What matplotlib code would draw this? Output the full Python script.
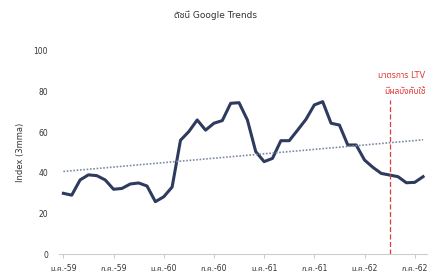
import numpy as np
import matplotlib
matplotlib.use("Agg")
import matplotlib.pyplot as plt
from matplotlib import font_manager

# pick an installed family that has Thai glyphs
thai_pref = ['Noto Sans Thai', 'Noto Sans Thai UI', 'Sarabun', 'Prompt', 'Kanit', 'Anuphan']
names = {f.name for f in font_manager.fontManager.ttflist}
thai_font = next((n for n in thai_pref if n in names), 'Anuphan')
plt.rcParams['font.family'] = ['DejaVu Sans', thai_font]

# Google Trends index (3mma), monthly from ม.ค.-59
index_3mma = [29.9, 29.0, 36.5, 39.0, 38.6, 36.5, 31.9, 32.3, 34.5, 35.0, 33.5, 25.8,
              28.2, 33.0, 56.0, 60.3, 66.0, 61.0, 64.4, 65.7, 74.2, 74.5, 66.0, 50.4,
              45.5, 47.1, 55.8, 55.8, 61.0, 66.3, 73.4, 75.0, 64.4, 63.5, 53.7, 53.7,
              46.3, 42.7, 39.7, 38.9, 38.1, 35.1, 35.3, 38.1]
tick_labels = ['ม.ค.-59', 'ก.ค.-59', 'ม.ค.-60', 'ก.ค.-60',
               'ม.ค.-61', 'ก.ค.-61', 'ม.ค.-62', 'ก.ค.-62']
ltv_month = 39  # เม.ย.-62

x = np.arange(len(index_3mma))
coef = np.polyfit(x, index_3mma, 1)
trend = np.polyval(coef, x)

fig = plt.figure(figsize=(4.32, 2.78), dpi=100)
ax = fig.add_axes([0.137, 0.086, 0.852, 0.731])

ax.plot(x, index_3mma, color='#2e3b5e', lw=2.2, solid_joinstyle='round')
ax.plot(x, trend, color='#7d8aa6', lw=1.2, ls=(0, (1, 1)))
ax.plot([ltv_month, ltv_month], [0, 76], color='#e03a3a', lw=0.9, ls=(0, (4, 2)))

ax.text(43.3, 88, 'มาตรการ LTV', color='#e03a3a', fontsize=6, ha='right', va='center')
ax.text(43.3, 80, 'มีผลบังคับใช้', color='#e03a3a', fontsize=6, ha='right', va='center')

ax.set_xlim(-0.5, 43.5)
ax.set_ylim(0, 100)
ax.set_yticks([0, 20, 40, 60, 80, 100])
ax.set_xticks(np.arange(0, 43, 6))
ax.set_xticklabels(tick_labels)
ax.tick_params(axis='y', length=0, labelsize=5.5, colors='#333333', pad=8)
ax.tick_params(axis='x', length=3, labelsize=5.5, colors='#cccccc', labelcolor='#333333', pad=4)
for s in ['top', 'right', 'left']:
    ax.spines[s].set_visible(False)
ax.spines['bottom'].set_color('#cccccc')
ax.spines['bottom'].set_linewidth(0.8)

ax.set_ylabel('Index (3mma)', fontsize=6, color='#333333', labelpad=6)
fig.text(0.5, 0.945, 'ดัชนี Google Trends', fontsize=6.5, ha='center', va='center', color='#333333')

fig.savefig('out.png', dpi=100)
